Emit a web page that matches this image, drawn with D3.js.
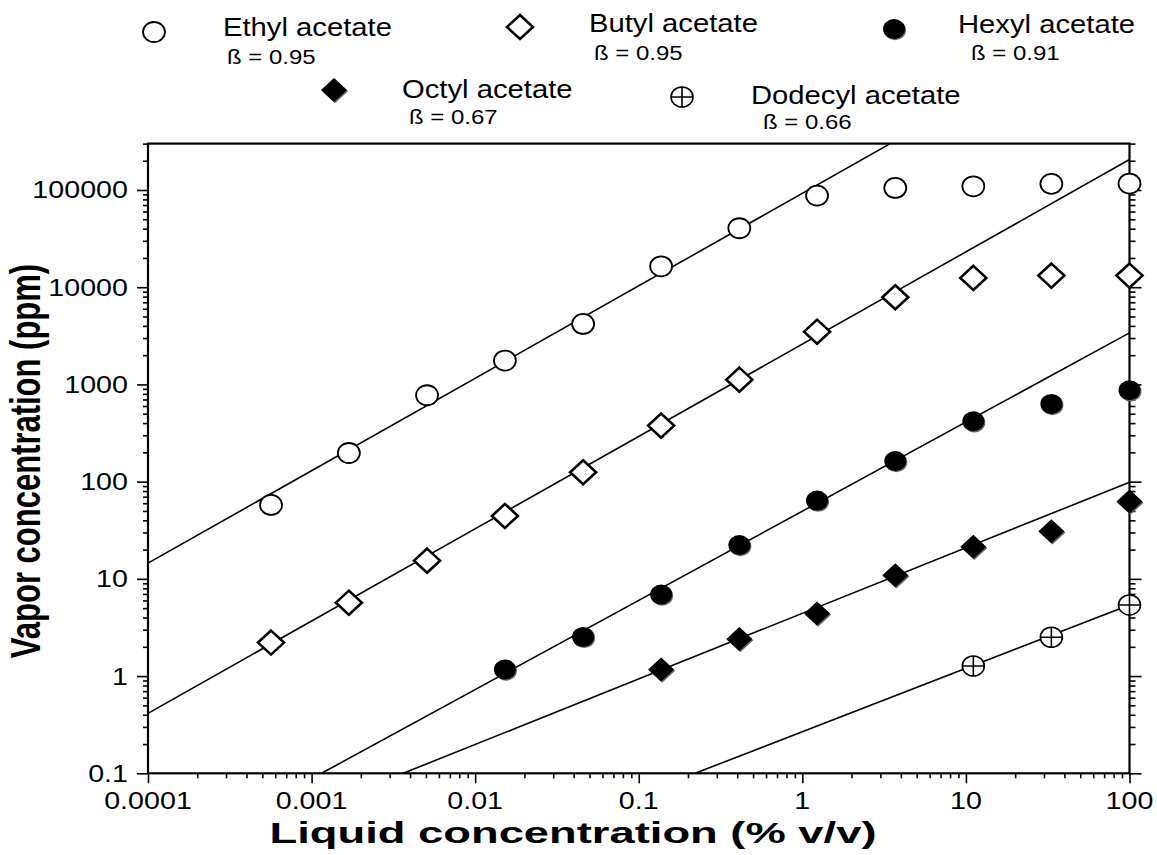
<!DOCTYPE html>
<html>
<head>
<meta charset="utf-8">
<script src="https://cdn.jsdelivr.net/npm/d3@7"></script>
<style>
  body { margin: 0; background: #fff; }
  svg text { font-family: "Liberation Sans", Arial, Helvetica, sans-serif; fill: #000; }
</style>
</head>
<body>
<div id="chart"></div>
<script>

// vapor vs liquid concentration of acetates, log-log, with power-law fits

var conc = [0.000565, 0.00169, 0.00508, 0.0152, 0.0457, 0.137, 0.412, 1.23, 3.70, 11.1, 33.3, 100];

var ethyl   = [57.6, 197, 774, 1760, 4190, 16400, 40400, 87500, 105000, 109000, 115600, 116400];
var butyl   = [2.21, 5.69, 15.4, 44.4, 125, 377, 1120, 3490, 7890, 12470, 13160, 13160];
var hexyl   = [null, null, null, 1.17, 2.53, 6.91, 22.3, 63.8, 163, 418, 630, 871];
var octyl   = [null, null, null, null, null, 1.17, 2.41, 4.39, 10.9, 21.4, 30.9, 62.3];
var dodecyl = [null, null, null, null, null, null, null, null, null, 1.27, 2.51, 5.39];

var names  = ["Ethyl acetate", "Butyl acetate", "Hexyl acetate", "Octyl acetate", "Dodecyl acetate"];
var betas  = ["0.95", "0.95", "0.91", "0.67", "0.66"];
var shapes = ["open-circle", "open-diamond", "filled-circle", "filled-diamond", "cross-circle"];

// fitted lines: [x, y] at both ends where they leave the plot
var fitStart = [[0.0001, 14.5], [0.0001, 0.414], [0.00115, 0.1], [0.00363, 0.1], [0.221, 0.1]];
var fitEnd   = [[3.45, 300000], [100, 205600], [100, 3390], [100, 98.6], [100, 5.39]];

var xTicks = [0.0001, 0.001, 0.01, 0.1, 1, 10, 100];
var xTickLabels = ["0.0001", "0.001", "0.01", "0.1", "1", "10", "100"];
var yTicks = [0.1, 1, 10, 100, 1000, 10000, 100000];
var yTickLabels = ["0.1", "1", "10", "100", "1000", "10000", "100000"];

var series = [ethyl, butyl, hexyl, octyl, dodecyl];

var W = 1157, H = 855;
var plot = { left: 148, right: 1129.5, top: 143.6, bottom: 773.3 };
var SX = 1.17; // the original is a bit wider than tall

var svg = d3.select("#chart").append("svg")
  .attr("width", W).attr("height", H);

var x = d3.scaleLog().domain([1e-4, 100]).range([plot.left, plot.right]);
var y = d3.scaleLog().domain([0.1, 3e5]).range([plot.bottom, plot.top]);

function label(g, str, px, py, size, anchor, opts) {
  opts = opts || {};
  var t = g.append("text")
    .attr("transform", "translate(" + px + "," + py + ") scale(" + (opts.sx || SX) + ",1)" + (opts.rot ? " rotate(" + opts.rot + ")" : ""))
    .attr("font-size", size)
    .attr("text-anchor", anchor)
    .text(str);
  if (opts.bold) t.attr("font-weight", "bold");
  if (opts.len) t.attr("textLength", opts.len).attr("lengthAdjust", "spacingAndGlyphs");
  return t;
}

function minorTicks(domain) {
  var out = [];
  for (var e = Math.round(Math.log10(domain[0])); e <= Math.round(Math.log10(domain[1])); e++) {
    for (var k = 2; k <= 9; k++) {
      var v = k * Math.pow(10, e);
      if (v > domain[0] && v <= domain[1] * 1.0001) out.push(v);
    }
  }
  return out;
}

// axes: major and minor ticks, labels drawn separately
function tickAxis(axis, values, size) {
  return axis.tickValues(values).tickSize(size).tickFormat("").tickSizeOuter(0);
}

var axesG = svg.append("g").attr("class", "axes");

axesG.append("g").attr("transform", "translate(0," + plot.bottom + ")")
  .call(tickAxis(d3.axisBottom(x), xTicks, 10));
axesG.append("g").attr("transform", "translate(0," + plot.bottom + ")")
  .call(tickAxis(d3.axisBottom(x), minorTicks(x.domain()), 5));

axesG.append("g").attr("transform", "translate(" + plot.left + ",0)")
  .call(tickAxis(d3.axisLeft(y), yTicks, 11));
axesG.append("g").attr("transform", "translate(" + plot.left + ",0)")
  .call(tickAxis(d3.axisLeft(y), minorTicks(y.domain()), 5));

axesG.append("g").attr("transform", "translate(" + plot.right + ",0)")
  .call(tickAxis(d3.axisRight(y), yTicks, 12));
axesG.append("g").attr("transform", "translate(" + plot.right + ",0)")
  .call(tickAxis(d3.axisRight(y), minorTicks(y.domain()), 6));

axesG.selectAll(".domain").remove();
axesG.selectAll(".tick line").attr("stroke", "#000").attr("stroke-width", 1.6);

// frame
svg.append("rect")
  .attr("x", plot.left).attr("y", plot.top)
  .attr("width", plot.right - plot.left).attr("height", plot.bottom - plot.top)
  .attr("fill", "none").attr("stroke", "#000").attr("stroke-width", 2.2);

// tick labels
var labG = svg.append("g");
yTicks.forEach(function (v, i) {
  label(labG, yTickLabels[i], 128, y(v) + 8.5, 24.5, "end");
});
xTicks.forEach(function (v, i) {
  label(labG, xTickLabels[i], x(v), 809, 24.5, "middle");
});

// axis titles
label(svg, "Liquid concentration (% v/v)", 573, 843, 30, "middle", { bold: true, sx: 1, len: 607 });
label(svg, "Vapor concentration (ppm)", 40, 461, 31, "middle", { bold: true, sx: 1.35, rot: -90 });

// fitted lines
svg.append("clipPath").attr("id", "clip")
  .append("rect").attr("x", plot.left).attr("y", plot.top)
  .attr("width", plot.right - plot.left).attr("height", plot.bottom - plot.top);

var line = d3.line()
  .x(function (d) { return x(d[0]); })
  .y(function (d) { return y(d[1]); });

svg.append("g").attr("clip-path", "url(#clip)")
  .selectAll("path.fit")
  .data(fitStart.map(function (s, i) { return [s, fitEnd[i]]; }))
  .enter().append("path")
  .attr("class", "fit")
  .attr("d", line)
  .attr("fill", "none")
  .attr("stroke", "#000")
  .attr("stroke-width", 1.6);

// markers
function marker(g, shape, cx, cy) {
  var m = g.append("g").attr("transform", "translate(" + cx + "," + cy + ")");
  var dia = "M0,-12 L13,0 L0,12 L-13,0 Z";
  if (shape === "open-circle") {
    m.append("ellipse").attr("rx", 11).attr("ry", 10)
      .attr("fill", "#fff").attr("stroke", "#000").attr("stroke-width", 1.8);
  } else if (shape === "open-diamond") {
    m.append("path").attr("d", dia)
      .attr("fill", "#fff").attr("stroke", "#000").attr("stroke-width", 2.6);
  } else if (shape === "filled-circle") {
    m.append("ellipse").attr("cx", 1).attr("cy", 1.2).attr("rx", 11).attr("ry", 10).attr("fill", "#666");
    m.append("ellipse").attr("rx", 11).attr("ry", 10).attr("fill", "#000");
  } else if (shape === "filled-diamond") {
    m.append("path").attr("d", dia).attr("transform", "translate(1,1.2)").attr("fill", "#666");
    m.append("path").attr("d", dia).attr("fill", "#000");
  } else if (shape === "cross-circle") {
    m.append("ellipse").attr("rx", 11).attr("ry", 10)
      .attr("fill", "#fff").attr("stroke", "#000").attr("stroke-width", 1.6);
    m.append("path").attr("d", "M-11,0 H11 M0,-10 V10")
      .attr("stroke", "#000").attr("stroke-width", 1.6);
  }
  return m;
}

var ptsG = svg.append("g");
series.forEach(function (vals, si) {
  vals.forEach(function (v, i) {
    if (v == null) return;
    marker(ptsG, shapes[si], x(conc[i]), y(v));
  });
});

// legend
var legendPos = [
  { mx: 154, my: 32, tx: 223, ty: 36, bx: 227, by: 64 },
  { mx: 520, my: 27, tx: 589, ty: 32, bx: 594, by: 60 },
  { mx: 894, my: 29, tx: 958, ty: 33, bx: 971, by: 60 },
  { mx: 334, my: 90, tx: 402, ty: 98, bx: 409, by: 124 },
  { mx: 682, my: 97, tx: 751, ty: 104, bx: 763, by: 129 }
];

var legG = svg.append("g");
names.forEach(function (n, i) {
  var p = legendPos[i];
  marker(legG, shapes[i], p.mx, p.my);
  label(legG, n, p.tx, p.ty, 25, "start");
  label(legG, "ß = " + betas[i], p.bx, p.by, 20.5, "start");
});

</script>
</body>
</html>
